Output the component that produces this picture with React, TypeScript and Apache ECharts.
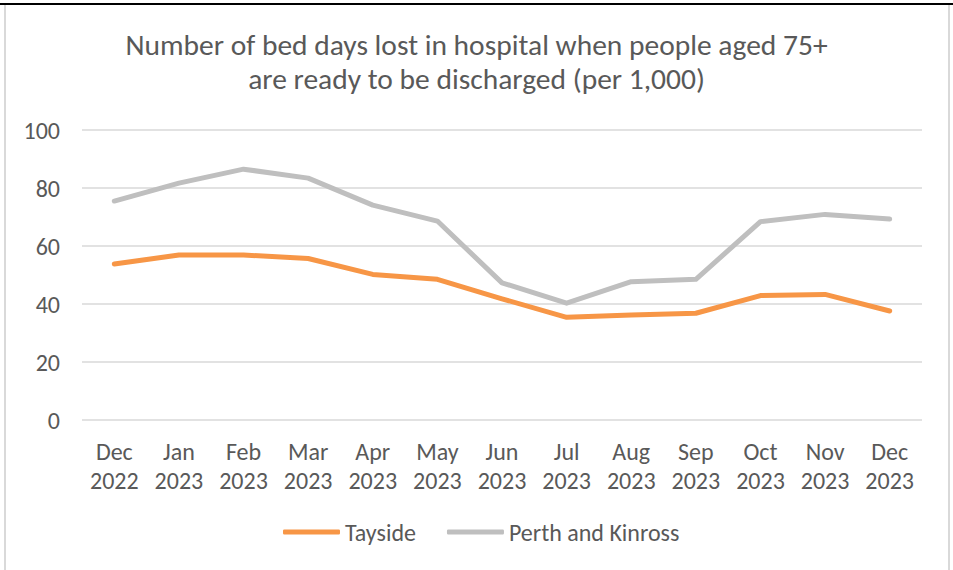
import React, { useEffect, useRef } from "react";
import * as echarts from "echarts";

const months = ["Dec\n2022", "Jan\n2023", "Feb\n2023", "Mar\n2023", "Apr\n2023", "May\n2023", "Jun\n2023", "Jul\n2023", "Aug\n2023", "Sep\n2023", "Oct\n2023", "Nov\n2023", "Dec\n2023"];
const tayside = [53.8, 56.9, 56.9, 55.7, 50.2, 48.5, 41.8, 35.4, 36.2, 36.8, 42.9, 43.3, 37.6];
const perthKinross = [75.5, 81.7, 86.5, 83.4, 74.1, 68.6, 47.3, 40.3, 47.7, 48.5, 68.4, 70.9, 69.3];
const yTicks = { min: 0, max: 100, interval: 20 };
const titleText = "Number of bed days lost in hospital when people aged 75+\nare ready to be discharged (per 1,000)";

const FONT = "Carlito, Calibri, 'Open Sans', sans-serif";
const TXT = "#595959";

export default function App() {
  const ref = useRef<HTMLDivElement>(null);
  useEffect(() => {
    document.body.style.margin = "0";
    const chart = echarts.init(ref.current!, null, { renderer: "svg" });
    chart.setOption({
      animation: false,
      backgroundColor: "#ffffff",
      title: {
        text: titleText,
        left: "center",
        top: 23,
        textStyle: { color: TXT, fontFamily: FONT, fontSize: 29.5, fontWeight: "normal", lineHeight: 34 },
      },
      legend: {
        top: 515,
        left: 278,
        icon: "roundRect",
        itemWidth: 57,
        itemHeight: 5,
        itemGap: 31,
        textStyle: { color: TXT, fontFamily: FONT, fontSize: 24 },
        data: ["Tayside", "Perth and Kinross"],
      },
      grid: { left: 82, right: 31, top: 130, bottom: 150, containLabel: false },
      xAxis: {
        type: "category",
        data: months,
        boundaryGap: true,
        axisLine: { show: false },
        axisTick: { show: false },
        axisLabel: { color: TXT, fontFamily: FONT, fontSize: 24, lineHeight: 29, margin: 17, interval: 0 },
      },
      yAxis: {
        type: "value",
        min: yTicks.min,
        max: yTicks.max,
        interval: yTicks.interval,
        axisLine: { show: false },
        axisTick: { show: false },
        axisLabel: { color: TXT, fontFamily: FONT, fontSize: 24, margin: 22 },
        splitLine: { lineStyle: { color: "#D9D9D9", width: 1.5 } },
      },
      series: [
        {
          name: "Tayside",
          type: "line",
          data: tayside,
          symbol: "none",
          color: "#F79646",
          lineStyle: { width: 5, color: "#F79646", cap: "round", join: "round" },
        },
        {
          name: "Perth and Kinross",
          type: "line",
          data: perthKinross,
          symbol: "none",
          color: "#BFBFBF",
          lineStyle: { width: 5, color: "#BFBFBF", cap: "round", join: "round" },
        },
      ],
      graphic: [
        { type: "rect", shape: { x: 0, y: 3, width: 953, height: 2 }, style: { fill: "#000000" } },
        { type: "rect", shape: { x: 4, y: 5, width: 2, height: 565 }, style: { fill: "#D9D9D9" } },
        { type: "rect", shape: { x: 948, y: 5, width: 2, height: 565 }, style: { fill: "#D9D9D9" } },
      ],
    });
    return () => chart.dispose();
  }, []);
  return <div ref={ref} style={{ position: "absolute", left: 0, top: 0, width: 953, height: 570 }} />;
}
